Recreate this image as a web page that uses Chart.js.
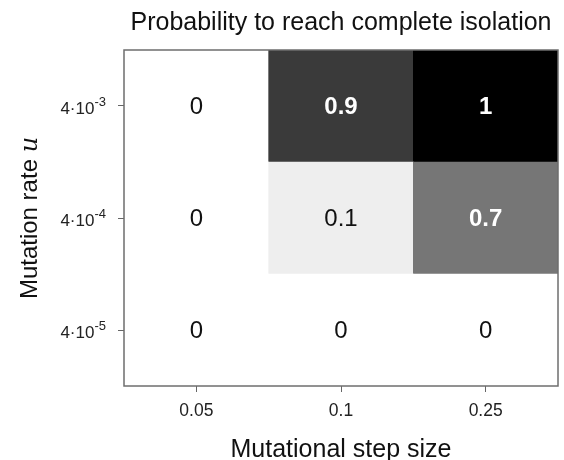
<!DOCTYPE html>
<html>
<head>
<meta charset="utf-8">
<script src="https://cdn.jsdelivr.net/npm/chart.js@4.4.1/dist/chart.umd.min.js"></script>
<style>
  html, body { margin: 0; padding: 0; background: #fff; }
  #wrap { width: 564px; height: 460px; }
</style>
</head>
<body>
<div id="wrap"><canvas id="heat" width="564" height="460"></canvas></div>
<script>
// step sizes along x, mutation rates along y (bottom to top)
const stepSizes = ['0.05', '0.1', '0.25'];
const rateBases = ['4·10', '4·10', '4·10'];
const rateExps = ['-5', '-4', '-3'];

// probability of complete isolation, one array per mutation rate
const probLow = [0, 0, 0];      // 4·10^-5
const probMid = [0, 0.1, 0.7];  // 4·10^-4
const probHigh = [0, 0.9, 1];   // 4·10^-3

const rows = [probLow, probMid, probHigh];
const FONT = '"Liberation Sans", Arial, Helvetica, sans-serif';

// grey level for a probability (0 = white, 1 = black)
function shade(p) {
    const g = Math.round(255 * Math.pow(1 - p, 0.64));
    return 'rgb(' + g + ',' + g + ',' + g + ')';
}

const datasets = rows.map((vals, r) => ({
    label: rateBases[r] + rateExps[r],
    data: vals.map(() => [r - 0.5, r + 0.5]),
    probs: vals,
    backgroundColor: vals.map(shade),
    borderWidth: 0,
    grouped: false,
    barPercentage: 1,
    categoryPercentage: 1
}));

// cell values, frame, y tick labels and y title
const heatText = {
    id: 'heatText',
    afterDatasetsDraw(chart) {
        const ctx = chart.ctx;
        const area = chart.chartArea;
        ctx.save();
        ctx.textAlign = 'center';
        ctx.textBaseline = 'middle';
        chart.data.datasets.forEach((ds, di) => {
            const meta = chart.getDatasetMeta(di);
            meta.data.forEach((bar, i) => {
                const p = ds.probs[i];
                const dark = p > 0.5;
                ctx.fillStyle = dark ? '#fff' : '#111';
                ctx.font = (dark ? 'bold ' : '') + '24px ' + FONT;
                ctx.fillText(String(p), bar.x, (bar.y + bar.base) / 2 + 1);
            });
        });

        // frame
        ctx.strokeStyle = '#6e6e6e';
        ctx.lineWidth = 1.5;
        ctx.strokeRect(area.left, area.top, area.right - area.left, area.bottom - area.top);

        // y tick labels with superscript exponent
        const y = chart.scales.y;
        ctx.fillStyle = '#222';
        ctx.textAlign = 'right';
        rateBases.forEach((b, r) => {
            const py = y.getPixelForValue(r);
            ctx.font = '13px ' + FONT;
            const ew = ctx.measureText(rateExps[r]).width;
            ctx.textBaseline = 'alphabetic';
            ctx.fillText(rateExps[r], 106, py);
            ctx.font = '17px ' + FONT;
            ctx.fillText(b, 106 - ew, py + 8);
        });

        // y axis title, italic u
        ctx.translate(37, (area.top + area.bottom) / 2);
        ctx.rotate(-Math.PI / 2);
        ctx.textBaseline = 'alphabetic';
        ctx.textAlign = 'left';
        ctx.font = '24px ' + FONT;
        const t1 = 'Mutation rate ';
        const w1 = ctx.measureText(t1).width;
        ctx.font = 'italic 24px "DejaVu Serif", serif';
        const w2 = ctx.measureText('u').width;
        const x0 = -(w1 + w2) / 2;
        ctx.font = '24px ' + FONT;
        ctx.fillStyle = '#111';
        ctx.fillText(t1, x0, 0);
        ctx.font = 'italic 24px "DejaVu Serif", serif';
        ctx.fillText('u', x0 + w1, 0);
        ctx.restore();
    }
};

new Chart(document.getElementById('heat'), {
    type: 'bar',
    data: { labels: stepSizes, datasets: datasets },
    options: {
        responsive: false,
        animation: false,
        layout: { padding: { top: 0, right: 6, left: 0, bottom: 0 } },
        plugins: {
            legend: { display: false },
            tooltip: { enabled: false },
            title: {
                display: true,
                text: 'Probability to reach complete isolation',
                fullSize: false,
                color: '#111',
                font: { family: FONT, size: 25, weight: 'normal' },
                padding: { top: 8, bottom: 12 }
            }
        },
        scales: {
            x: {
                type: 'category',
                offset: true,
                afterFit(s) { s.height = 74; },
                border: { display: false },
                grid: { drawOnChartArea: false, offset: false, tickLength: 6, color: '#666', lineWidth: 1 },
                ticks: { color: '#222', padding: 9, font: { family: FONT, size: 17.5 } },
                title: {
                    display: true,
                    text: 'Mutational step size',
                    color: '#111',
                    font: { family: FONT, size: 25 },
                    padding: { top: 0, bottom: -5 }
                }
            },
            y: {
                type: 'linear',
                min: -0.5,
                max: 2.5,
                afterBuildTicks(s) { s.ticks = [{ value: 0 }, { value: 1 }, { value: 2 }]; },
                afterFit(s) { s.width = 124; },
                border: { display: false },
                grid: { drawOnChartArea: false, tickLength: 6, color: '#666', lineWidth: 1 },
                ticks: { display: false }
            }
        }
    },
    plugins: [heatText]
});
</script>
</body>
</html>
